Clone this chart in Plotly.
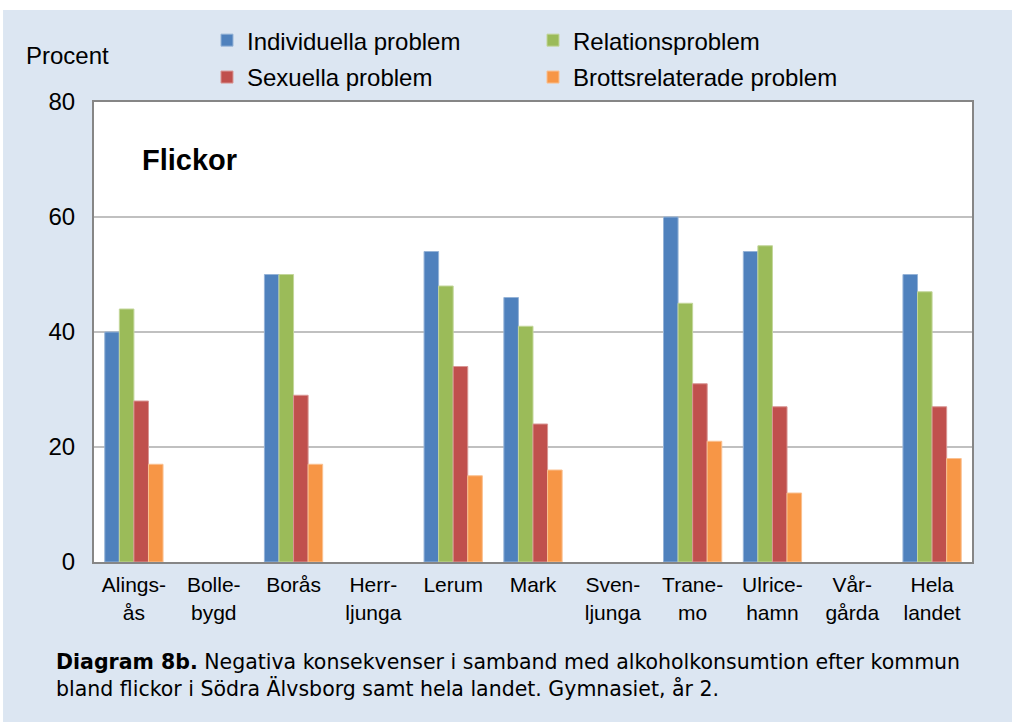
import plotly.graph_objects as go

categories = ['Alings-<br>ås', 'Bolle-<br>bygd', 'Borås', 'Herr-<br>ljunga', 'Lerum', 'Mark',
              'Sven-<br>ljunga', 'Trane-<br>mo', 'Ulrice-<br>hamn', 'Vår-<br>gårda', 'Hela<br>landet']

individuella = [40, None, 50, None, 54, 46, None, 60, 54, None, 50]
relation = [44, None, 50, None, 48, 41, None, 45, 55, None, 47]
sexuella = [28, None, 29, None, 34, 24, None, 31, 27, None, 27]
brott = [17, None, 17, None, 15, 16, None, 21, 12, None, 18]

series_names = ['Individuella problem', 'Relationsproblem', 'Sexuella problem', 'Brottsrelaterade problem']
series_values = [individuella, relation, sexuella, brott]
colors = ['#4F81BD', '#9BBB59', '#C0504D', '#F79646']
outline = ['#95B3D7', '#C3D69B', '#D99694', '#FAC090']
legend_ids = ['legend', 'legend', 'legend2', 'legend2']

font = 'Liberation Sans, Arial, sans-serif'

fig = go.Figure()
for name, vals, col, oc, lg in zip(series_names, series_values, colors, outline, legend_ids):
    fig.add_trace(go.Bar(x=categories, y=vals, name=name, legend=lg,
                         marker=dict(color=col, line=dict(color=oc, width=1))))

leg_common = dict(orientation='h', xanchor='left', yanchor='top', entrywidth=281,
                  entrywidthmode='pixels', font=dict(size=24), bgcolor='rgba(0,0,0,0)',
                  traceorder='normal', itemwidth=30)

fig.update_layout(
    width=1012, height=722,
    barmode='group', bargap=0.27, bargroupgap=0,
    paper_bgcolor='#DCE6F2', plot_bgcolor='white',
    margin=dict(l=94, r=40, t=102, b=160, autoexpand=False),
    font=dict(family=font, color='black'),
    xaxis=dict(showline=True, linecolor='#868686', linewidth=2, mirror=True,
               tickfont=dict(size=21), ticks='', ticklabelstandoff=3),
    yaxis=dict(range=[0, 80], tickvals=[0, 20, 40, 60, 80], showgrid=True,
               gridcolor='#C0C0C0', gridwidth=2, showline=True, linecolor='#868686',
               linewidth=2, mirror=True, tickfont=dict(size=24), ticks='',
               zeroline=False, ticklabelstandoff=12),
    legend=dict(x=0.1287, y=1.1825, **leg_common),
    legend2=dict(x=0.1287, y=1.1023, **leg_common),
    showlegend=True,
)

fig.add_shape(type='rect', xref='paper', yref='paper', x0=-0.2, x1=1.1, y0=1.2, y1=1.25,
              fillcolor='white', line_width=0, layer='above')
fig.add_shape(type='rect', xref='paper', yref='paper', x0=-0.11, x1=-0.1036, y0=-0.4, y1=1.25,
              fillcolor='white', line_width=0, layer='above')

fig.add_annotation(x=-0.0797, y=1.102, xref='paper', yref='paper', text='Procent',
                   showarrow=False, xanchor='left', yanchor='middle', font=dict(size=24))
fig.add_annotation(x=0.0524, y=0.874, xref='paper', yref='paper', text='<b>Flickor</b>',
                   showarrow=False, xanchor='left', yanchor='middle', font=dict(size=29))
fig.add_annotation(x=-0.0455, y=-0.2478, xref='paper', yref='paper',
                   text='<b>Diagram 8b.</b> Negativa konsekvenser i samband med alkoholkonsumtion efter kommun'
                        '<br>bland flickor i Södra Älvsborg samt hela landet. Gymnasiet, år 2.',
                   showarrow=False, xanchor='left', yanchor='middle', align='left',
                   font=dict(size=20.5, family='DejaVu Sans, sans-serif'))

fig.write_html('out.html', config={'displayModeBar': False},
               post_script="document.body.style.margin='0';")
